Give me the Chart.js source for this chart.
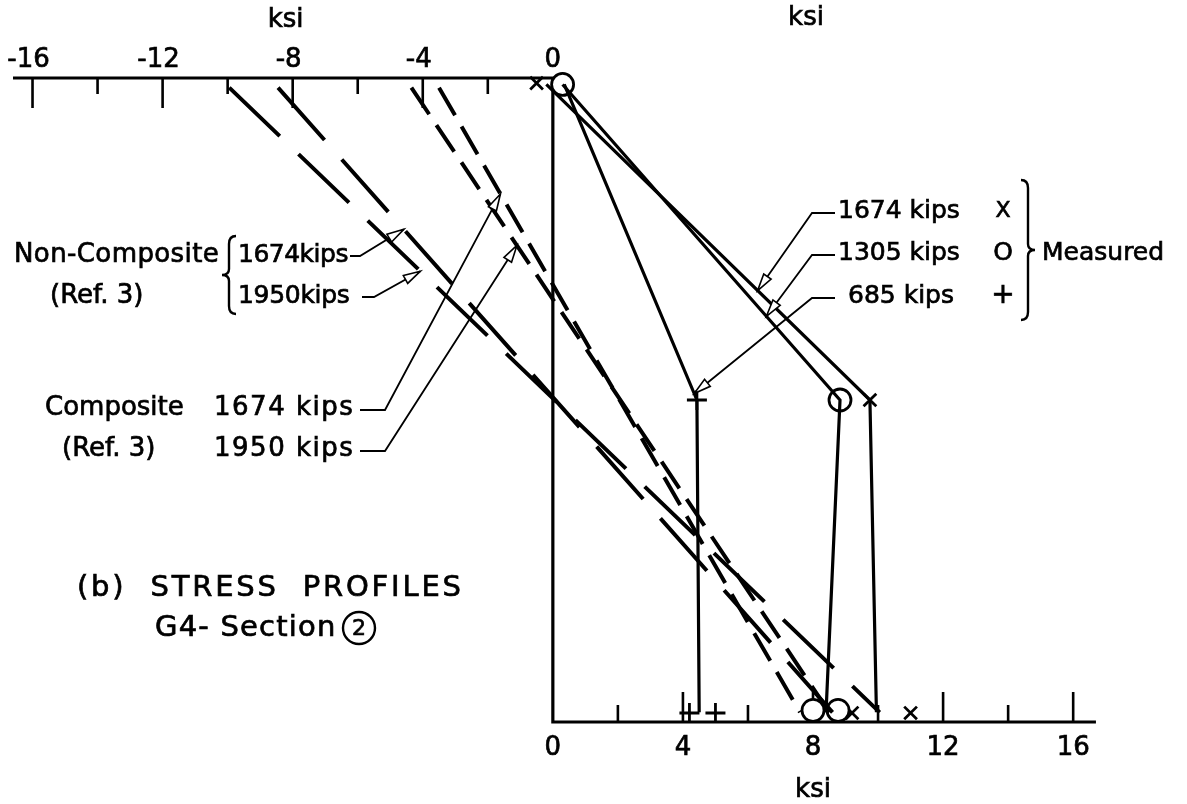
<!DOCTYPE html>
<html lang="en">
  <head>
    <meta charset="utf-8" />
    <title>Stress profiles G4 - Section 2</title>
    <style>
      * {
        margin: 0;
        padding: 0;
      }
      body {
        background: white;
      }
      .chartBox {
        width: 1187px;
        height: 804px;
      }
    </style>
  </head>
  <body>
    <div class="chartBox">
      <canvas id="myChart"></canvas>
    </div>

    <script src="https://cdn.jsdelivr.net/npm/chart.js@4.4.0/dist/chart.umd.min.js"></script>

    <script>
      // depth through the girder, 0 = top flange, 100 = bottom flange
      const measDepth = [1, 50, 98.5];
      const meas1674 = [-0.2, 9.75, 9.95];
      const meas1305 = [0.3, 8.83, 8.4];
      const meas685 = [0.35, 4.43, 4.5];

      // theoretical profiles (Ref. 3)
      const theoryDepth = [1.5, 98.5];
      const nonComp1674 = [-8.45, 8.6];
      const nonComp1950 = [-9.95, 10.05];
      const comp1674 = [-3.5, 7.6];
      const comp1950 = [-4.35, 8.5];

      // measured points drawn as symbols
      const markX = [-0.5, 9.75, 9.2, 11.0];
      const markXDepth = [0.8, 50, 98.6, 98.6];
      const markO = [0.3, 8.83, 8.0, 8.77];
      const markODepth = [1.0, 50, 98.2, 98.2];
      const markPlus = [4.43, 4.2, 5.0];
      const markPlusDepth = [50, 98.6, 98.6];

      // axis ticks
      const topMajor = [-16, -12, -8, -4, 0];
      const topMinor = [-14, -10, -6, -2];
      const bottomMajor = [0, 4, 8, 12, 16];
      const bottomMinor = [2, 6, 10, 14];

      const FONT = '"DejaVu Sans", sans-serif';

      const pts = (xs, ys) => xs.map((v, i) => ({ x: v, y: ys[i] }));

      const lineSet = (vals, depths, dash, width) => ({
        data: pts(vals, depths),
        showLine: true,
        borderColor: "#000",
        borderWidth: width,
        borderDash: dash,
        pointRadius: 0,
        fill: false,
        clip: false,
      });

      const markSet = (vals, depths, style, r) => ({
        data: pts(vals, depths),
        showLine: false,
        pointStyle: style,
        pointRadius: r,
        borderColor: "#000",
        borderWidth: 2.8,
        backgroundColor: "#fff",
        clip: false,
      });

      // point on a straight profile at given depth
      const onLine = (vals, depths, d) => {
        for (let i = 0; i < depths.length - 1; i++) {
          if (d >= depths[i] && d <= depths[i + 1]) {
            const t = (d - depths[i]) / (depths[i + 1] - depths[i]);
            return vals[i] + t * (vals[i + 1] - vals[i]);
          }
        }
        return vals[0];
      };

      const data = {
        datasets: [
          lineSet(nonComp1950, theoryDepth, [70, 26], 4),
          lineSet(nonComp1674, theoryDepth, [70, 26], 4),
          lineSet(comp1950, theoryDepth, [32, 13], 4),
          lineSet(comp1674, theoryDepth, [32, 13], 4),
          lineSet(meas1674, measDepth, [], 3.2),
          lineSet(meas1305, measDepth, [], 3.2),
          lineSet(meas685, measDepth, [], 3.2),
          markSet(markO, markODepth, "circle", 11),
          markSet(markX, markXDepth, "crossRot", 9),
          markSet(markPlus, markPlusDepth, "cross", 10),
        ],
      };

      function text(ctx, str, x, y, size, align, spacing) {
        ctx.font = size + "px " + FONT;
        ctx.letterSpacing = (spacing || 0) + "px";
        ctx.textAlign = align || "left";
        ctx.textBaseline = "middle";
        ctx.fillStyle = "#000";
        ctx.strokeStyle = "#000";
        ctx.lineWidth = 0.7;
        ctx.fillText(str, x, y);
        ctx.strokeText(str, x, y);
        ctx.letterSpacing = "0px";
      }

      function arrow(ctx, path) {
        ctx.beginPath();
        ctx.moveTo(path[0][0], path[0][1]);
        for (let i = 1; i < path.length; i++) ctx.lineTo(path[i][0], path[i][1]);
        ctx.lineWidth = 1.8;
        ctx.strokeStyle = "#000";
        ctx.stroke();
        // open arrow head at last point
        const [x1, y1] = path[path.length - 2];
        const [x2, y2] = path[path.length - 1];
        const a = Math.atan2(y2 - y1, x2 - x1);
        const L = 17, W = 4.5;
        const bx = x2 - L * Math.cos(a), by = y2 - L * Math.sin(a);
        ctx.beginPath();
        ctx.moveTo(x2, y2);
        ctx.lineTo(bx + W * Math.sin(a), by - W * Math.cos(a));
        ctx.lineTo(bx - W * Math.sin(a), by + W * Math.cos(a));
        ctx.closePath();
        ctx.fillStyle = "#fff";
        ctx.fill();
        ctx.lineWidth = 1.6;
        ctx.stroke();
      }

      function brace(ctx, x, top, bottom, dir) {
        // dir 1 = "{" (tip left), -1 = "}" (tip right)
        const mid = (top + bottom) / 2;
        const w = 7 * dir;
        ctx.beginPath();
        ctx.moveTo(x + w, top);
        ctx.quadraticCurveTo(x, top, x, top + 8);
        ctx.lineTo(x, mid - 6);
        ctx.quadraticCurveTo(x, mid, x - w, mid);
        ctx.quadraticCurveTo(x, mid, x, mid + 6);
        ctx.lineTo(x, bottom - 8);
        ctx.quadraticCurveTo(x, bottom, x + w, bottom);
        ctx.lineWidth = 2.4;
        ctx.strokeStyle = "#000";
        ctx.stroke();
      }

      // axes block
      const frame = {
        id: "frame",
        beforeDatasetsDraw(chart) {
          const { ctx, scales: { x, y } } = chart;
          ctx.save();
          ctx.strokeStyle = "#000";
          ctx.lineWidth = 3.2;
          const y0 = y.getPixelForValue(0);
          const y1 = y.getPixelForValue(100);
          const x0 = x.getPixelForValue(0);
          ctx.beginPath();
          ctx.moveTo(x.getPixelForValue(-16.6), y0);
          ctx.lineTo(x0, y0);
          ctx.lineTo(x0, y1);
          ctx.lineTo(x.getPixelForValue(16.7), y1);
          ctx.stroke();

          ctx.lineWidth = 2.6;
          ctx.beginPath();
          topMajor.slice(0, -1).forEach((v) => {
            ctx.moveTo(x.getPixelForValue(v), y0);
            ctx.lineTo(x.getPixelForValue(v), y0 + 30);
          });
          topMinor.forEach((v) => {
            ctx.moveTo(x.getPixelForValue(v), y0);
            ctx.lineTo(x.getPixelForValue(v), y0 + 16);
          });
          bottomMajor.slice(1).forEach((v) => {
            ctx.moveTo(x.getPixelForValue(v), y1);
            ctx.lineTo(x.getPixelForValue(v), y1 - 30);
          });
          bottomMinor.forEach((v) => {
            ctx.moveTo(x.getPixelForValue(v), y1);
            ctx.lineTo(x.getPixelForValue(v), y1 - 17);
          });
          ctx.stroke();

          topMajor.forEach((v) =>
            text(ctx, String(v), x.getPixelForValue(v) - (v ? 4 : 0), y0 - 18, 26, "center")
          );
          bottomMajor.forEach((v) =>
            text(ctx, String(v), x.getPixelForValue(v), y1 + 26, 26, "center")
          );
          text(ctx, "ksi", x.getPixelForValue(-8) - 7, 20, 26, "center");
          text(ctx, "ksi", 806, 18, 26, "center");
          text(ctx, "ksi", x.getPixelForValue(8), y1 + 68, 26, "center");
          ctx.restore();
        },
      };

      // labels and leaders block
      const notes = {
        id: "notes",
        afterDraw(chart) {
          const { ctx, scales: { x, y } } = chart;
          const P = (vals, depths, d) => [
            x.getPixelForValue(onLine(vals, depths, d)),
            y.getPixelForValue(d),
          ];
          ctx.save();

          // theory labels, left
          text(ctx, "Non-Composite", 14, 255, 26, "left", 0.4);
          text(ctx, "(Ref. 3)", 50, 296, 26);
          brace(ctx, 229, 236, 314, 1);
          text(ctx, "1674kips", 238, 255, 25, "left", -0.5);
          text(ctx, "1950kips", 238, 296, 25, "left", -0.3);
          arrow(ctx, [[350, 256], [360, 256], P(nonComp1674, theoryDepth, 23.5)]);
          arrow(ctx, [[362, 297], [374, 297], P(nonComp1950, theoryDepth, 30)]);

          text(ctx, "Composite", 45, 408, 26);
          text(ctx, "1674 kips", 214, 408, 26, "left", 1.5);
          text(ctx, "(Ref. 3)", 62, 449, 26);
          text(ctx, "1950 kips", 214, 449, 26, "left", 1.5);
          arrow(ctx, [[360, 410], [385, 410], P(comp1674, theoryDepth, 18)]);
          arrow(ctx, [[360, 451], [385, 451], P(comp1950, theoryDepth, 26)]);

          // measured labels, right
          text(ctx, "1674 kips", 838, 211, 25);
          text(ctx, "1305 kips", 838, 253, 25);
          text(ctx, "685 kips", 848, 296, 25);
          text(ctx, "X", 1003, 211, 22, "center");
          text(ctx, "O", 1003, 253, 25, "center");
          text(ctx, "+", 1003, 296, 28, "center");
          brace(ctx, 1028, 180, 320, -1);
          text(ctx, "Measured", 1042, 253, 25);
          arrow(ctx, [[835, 213], [812, 213], P(meas1674, measDepth, 33)]);
          arrow(ctx, [[835, 255], [812, 255], P(meas1305, measDepth, 37)]);
          arrow(ctx, [[835, 298], [812, 298], P(meas685, measDepth, 49)]);

          // caption
          text(ctx, "(b)  STRESS  PROFILES", 77, 588, 29, "left", 2.8);
          text(ctx, "G4- Section", 155, 628, 29, "left", 1.2);
          ctx.beginPath();
          ctx.arc(359, 628, 16, 0, Math.PI * 2);
          ctx.lineWidth = 2.4;
          ctx.strokeStyle = "#000";
          ctx.stroke();
          text(ctx, "2", 359, 629, 22, "center");
          ctx.restore();
        },
      };

      const config = {
        type: "scatter",
        data: data,
        options: {
          responsive: true,
          maintainAspectRatio: false,
          animation: false,
          layout: {
            autoPadding: false,
            padding: { top: 78, bottom: 82, left: 0, right: 0 },
          },
          plugins: {
            legend: { display: false },
            tooltip: { enabled: false },
          },
          scales: {
            x: { type: "linear", min: -17, max: 19.5, display: false },
            y: { type: "linear", min: 0, max: 100, reverse: true, display: false },
          },
        },
        plugins: [frame, notes],
      };

      const myChart = new Chart(document.getElementById("myChart"), config);
    </script>
  </body>
</html>
